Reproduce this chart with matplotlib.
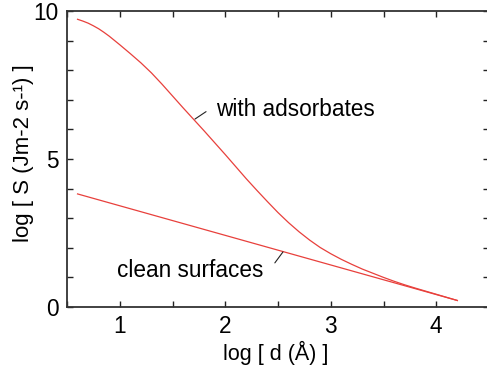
import matplotlib
matplotlib.use('Agg')
import matplotlib.pyplot as plt
from matplotlib.ticker import MultipleLocator

# log d (Angstrom) vs log S for the two cases
x_clean = [0.60, 4.20]
y_clean = [3.82, 0.22]

x_ads = [0.60, 0.65, 0.70, 0.75, 0.80, 0.85, 0.90, 1.00, 1.10, 1.20,
         1.30, 1.40, 1.50, 1.60, 1.70, 1.80, 1.90, 2.00, 2.10, 2.20,
         2.30, 2.40, 2.50, 2.60, 2.70, 2.80, 2.90, 3.00, 3.10, 3.20,
         3.30, 3.40, 3.50, 3.60, 3.70, 3.80, 4.00, 4.20]
y_ads = [9.72, 9.66, 9.59, 9.50, 9.40, 9.28, 9.15, 8.86, 8.56, 8.25,
         7.91, 7.53, 7.13, 6.73, 6.34, 5.95, 5.55, 5.15, 4.74, 4.33,
         3.94, 3.56, 3.19, 2.85, 2.54, 2.26, 2.01, 1.80, 1.61, 1.44,
         1.28, 1.14, 1.00, 0.87, 0.75, 0.64, 0.43, 0.22]

x_ticks = [1, 2, 3, 4]
y_ticks = [0, 5, 10]

plt.rcParams['font.family'] = ['Liberation Sans', 'DejaVu Sans']
plt.rcParams['font.size'] = 16.3

fig = plt.figure(figsize=(4.87, 3.77), dpi=100)
ax = fig.add_axes([67 / 487, 70 / 377, 422 / 487, 296 / 377])

red = '#e8403c'
ax.plot(x_clean, y_clean, color=red, lw=0.9)
ax.plot(x_ads, y_ads, color=red, lw=0.9)

ax.set_xlim(0.5, 4.5)
ax.set_ylim(0, 10)
ax.set_xticks(x_ticks)
ax.set_yticks(y_ticks)
ax.xaxis.set_minor_locator(MultipleLocator(0.5))
ax.yaxis.set_minor_locator(MultipleLocator(1))
ax.tick_params(which='both', direction='in', length=4.5, width=1.0,
               top=True, right=True, color='#222222', pad=6)

for s in ax.spines.values():
    s.set_linewidth(1.3)
    s.set_color('#333333')

ax.set_xlabel('log [ d (Å) ]', fontsize=15.5)
ax.xaxis.set_label_coords(0.494, -0.115)
ax.set_ylabel('log [ S (Jm-2 s-¹) ]', fontsize=16)
ax.yaxis.set_label_coords(-0.078, 0.52)

# labels with short leader lines
ax.text(1.91, 6.66, 'with adsorbates', ha='left', va='center')
ax.annotate('', xy=(1.713, 6.35), xytext=(1.818, 6.60),
            arrowprops=dict(arrowstyle='-', lw=0.8, color='#222222',
                            shrinkA=0, shrinkB=0))
ax.text(2.36, 1.22, 'clean surfaces', ha='right', va='center')
ax.annotate('', xy=(2.547, 1.86), xytext=(2.47, 1.49),
            arrowprops=dict(arrowstyle='-', lw=0.8, color='#222222',
                            shrinkA=0, shrinkB=0))

fig.savefig('out.png', dpi=100)
